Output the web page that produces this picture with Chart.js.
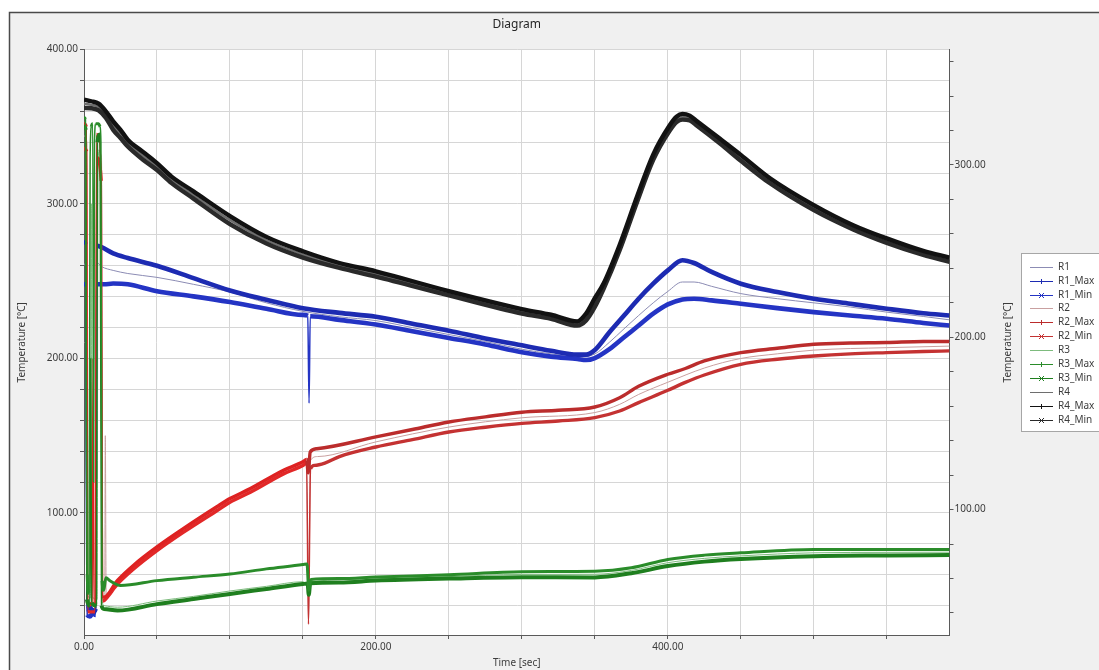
<!DOCTYPE html>
<html>
<head>
<meta charset="utf-8">
<title>Diagram</title>
<script src="https://cdn.jsdelivr.net/npm/chart.js@4.4.1/dist/chart.umd.min.js"></script>
<style>
  html, body { margin: 0; padding: 0; background: #ffffff; }
  canvas { display: block; }
</style>
</head>
<body>
<canvas id="chart" width="1099" height="670"></canvas>
<script>
// Logged temperatures, each point is [time in s, temperature in °C]

const R1 = [[0,261],[1.2,261],[2.1,36],[4,37],[6,36],[8,35],[8.9,262],[12,259.5],[20,257],[30,255],[50,252.5],[75,248],[100,243],[125,236],[150,230.5],[175,227],[200,224.5],[225,220],[250,215.5],[275,211],[300,206],[320,203],[338,200.7],[350,202.9],[360,210.5],[370,219.2],[380,227.8],[390,236],[400,243.4],[410,249.5],[418,249.5],[430,246.7],[450,242],[475,238.7],[500,236],[525,233.3],[550,230],[575,227.2],[593,225]];

const R1_MAX = [[0,275],[1.1,274],[1.9,38],[4,39],[6,36],[8,38],[8.7,273],[12,272],[20,268],[30,265],[50,260],[75,252],[100,244],[125,238],[150,232.5],[175,229.5],[200,227],[225,222.5],[250,218],[275,213],[300,208.5],[320,205],[338,202.5],[344,202.5],[350,205.5],[360,217],[370,227.8],[380,238.7],[390,248.4],[400,257],[410,263.6],[418,261.8],[430,256],[450,248.4],[475,243],[500,238.7],[525,235.4],[550,232.2],[575,229.3],[593,227.8]];

const R1_MIN = [[0,248],[1.3,248],[2.2,34],[4,33],[6,35],[8,34],[9,248],[13.7,248],[20,248.5],[30,248],[50,243.5],[75,240.2],[100,236.5],[125,232.2],[150,228.2],[153.3,227.6],[154.2,171],[155,227.3],[175,225],[200,222],[225,217.6],[250,213.3],[275,209],[300,204],[320,201.2],[338,199.7],[344,199],[350,200.3],[360,206],[370,213.7],[380,221.3],[390,229],[400,235],[410,238.2],[418,238.7],[430,237.6],[450,235.4],[475,232.6],[500,230],[525,227.8],[550,225.7],[575,223],[593,221.3]];

const R2 = [[0,344],[2,340],[2.5,38],[8.4,38],[9,335],[12,330],[13,45],[14.2,46],[14.6,150],[15.2,45],[22.8,55],[34,65],[50,76.8],[68,88.6],[91,102.7],[100,108.1],[114,114.6],[136.7,126.5],[150,131.9],[152.5,133.5],[153.8,31],[155.2,134],[160,136.5],[200,146],[250,155.6],[300,161.6],[350,165],[367,170.3],[380,176.7],[400,184.6],[425,193.8],[450,200],[475,203],[500,205.4],[550,207],[593,208]];

const R2_MAX = [[0,352],[1.5,350],[2.4,40],[5.5,42],[6.2,200],[6.8,40],[8,42],[8.6,345],[10.5,342],[11.5,320],[12.5,46],[13.7,45.5],[22.8,56.2],[34,66.2],[50,78],[68,89.8],[91,104],[100,109.3],[114,115.8],[136.7,127.7],[150,133.1],[152.5,134.7],[153.6,126],[155,139.5],[159.5,141.6],[200,149.2],[225,154],[250,158.9],[275,162.2],[300,165.2],[325,166.5],[350,168.6],[367,174.6],[380,182],[400,189.8],[412,193.5],[425,198.4],[450,203.8],[475,206.6],[500,209.2],[525,210],[550,210.3],[575,211],[593,211]];

const R2_MIN = [[0,336],[1.8,334],[2.6,36],[7.5,36],[8.8,330],[11.8,315],[12.8,43],[13.7,43.3],[22.8,53.8],[34,63.7],[50,75.6],[68,87.4],[91,101.4],[100,106.9],[114,113.4],[136.7,125.3],[150,130.7],[152.5,132.3],[153.8,28],[155.2,128.6],[158,130.8],[165,132.3],[175,136.5],[200,142.7],[225,147.5],[250,152.4],[275,155.5],[300,158],[325,159.5],[350,161.7],[367,166],[380,171.4],[400,179.4],[412,184.5],[425,189.3],[450,196.2],[475,199.5],[500,201.6],[525,203],[550,203.8],[575,204.5],[593,204.9]];

const R3 = [[0,353],[1.4,350],[2.1,48],[4.4,45],[5,300],[5.6,46],[9,44],[9.6,330],[11.2,335],[12.2,46],[13.7,40],[23,39],[50,43],[75,46],[100,49.5],[125,52.5],[150,55.5],[154,52],[155.5,55.5],[200,57.2],[250,58.8],[300,60.2],[350,60.3],[375,62.8],[400,67.8],[425,70.6],[450,72.2],[500,74.2],[550,74.5],[593,74.6]];

const R3_MAX = [[0,356],[1,355],[1.6,150],[2.2,60],[3.4,48],[4.2,330],[5,350],[6,352],[6.6,120],[7.2,340],[8,352],[10,352],[11,350],[11.6,340],[12.4,56],[13.5,50],[15,58],[18,56],[25,53],[50,56.2],[75,58.4],[100,60.5],[125,63.8],[150,66.6],[152.8,67],[154,50],[155.5,57],[175,57.5],[200,58.5],[250,60],[300,62],[350,62.3],[375,64.5],[400,69.9],[425,72.7],[450,74.2],[500,76.4],[550,76.4],[593,76.4]];

const R3_MIN = [[0,350],[1.2,348],[2,44],[4,40],[4.6,200],[5.2,42],[8.5,40],[9.2,340],[11,345],[12,40],[13.7,37.8],[23,36.8],[50,41],[75,44.3],[100,47.6],[125,50.8],[150,54],[153.2,54.3],[154,47],[155,54.5],[175,55],[200,56.2],[250,57.5],[300,58.4],[350,58.3],[375,61],[400,65.6],[425,68.5],[450,70.2],[500,72],[550,72.5],[593,72.8]];

const R4 = [[0,365],[5,364.2],[10,362.8],[15,357.8],[20,350.8],[25,345.3],[30,339.4],[40,331.5],[50,324.2],[60,315.6],[75,305.8],[100,289.6],[125,276.5],[150,267.3],[175,260.2],[200,254.7],[250,242.2],[300,230.5],[320,227],[338,222.6],[344,226.8],[350,236.2],[356,246.8],[367,271.8],[379,303.2],[390,330.2],[401,348.8],[406,354.8],[410,356.4],[415,355.6],[420,352.1],[436,340.5],[450,329.9],[470,315],[500,297.6],[527,284.9],[550,276.2],[575,268.3],[593,263.9]];

const R4_MAX = [[0,367.6],[5,366.5],[10,365],[15,360],[20,353.5],[25,348],[30,341.6],[40,334],[50,326.4],[60,317.7],[75,308.2],[100,292.2],[125,278.7],[150,269.4],[175,261.8],[200,256.4],[250,243.6],[300,232],[320,228.3],[338,224],[344,229],[350,239],[356,248.5],[367,273.5],[379,305],[390,332],[401,350.5],[406,356.5],[410,358.3],[415,357.2],[420,353.5],[436,342],[450,331.8],[470,316.7],[500,299.3],[527,286.3],[550,277.7],[575,269.6],[593,265.3]];

const R4_MIN = [[0,362.2],[5,362],[10,360.6],[15,355.7],[20,348],[25,342.7],[30,337.2],[40,329],[50,322],[60,313.5],[75,303.5],[100,287],[125,274.4],[150,265.3],[175,258.6],[200,253],[250,240.8],[300,229],[320,225.7],[338,221.3],[344,224.6],[350,233.3],[356,245],[367,270],[379,301.5],[390,328.5],[401,347],[406,353],[410,354.6],[415,354.1],[420,350.7],[436,339],[450,328],[470,313.4],[500,296],[527,283.5],[550,274.8],[575,267],[593,262.5]];

// Axis ticks
const X_TICKS = [0, 50, 100, 150, 200, 250, 300, 350, 400, 450, 500, 550];
const Y_TICKS = [40, 60, 80, 100, 120, 140, 160, 180, 200, 220, 240, 260, 280, 300, 320, 340, 360, 380, 400];
const Y2_TICKS = [40, 60, 80, 100, 120, 140, 160, 180, 200, 220, 240, 260, 280, 300, 320, 340, 360];

// Look of each channel: mean as a thin line under the heavier max (+) and min (x) traces.
// layer: lower numbers are painted later, i.e. on top.
// warmup: [until time s, colour] for the first heating phase of a trace.
const STYLE = {
  'R1':     { color: '#8c8cb4', width: 1,   mark: null,       layer: 6 },
  'R1_Max': { color: '#1d2bb2', width: 4.6, mark: 'cross',    layer: 2 },
  'R1_Min': { color: '#2434c4', width: 4.6, mark: 'crossRot', layer: 2 },
  'R2':     { color: '#c9a0a0', width: 1,   mark: null,       layer: 5 },
  'R2_Max': { color: '#bb2c2c', width: 3.4, mark: 'cross',    layer: 1, warmup: [153, '#de2222'] },
  'R2_Min': { color: '#c43232', width: 3.4, mark: 'crossRot', layer: 1, warmup: [153, '#e22828'] },
  'R3':     { color: '#7dbb7d', width: 1,   mark: null,       layer: 4 },
  'R3_Max': { color: '#2a8c2a', width: 3,   mark: 'cross',    layer: 0 },
  'R3_Min': { color: '#1f7f1f', width: 4,   mark: 'crossRot', layer: 0 },
  'R4':     { color: '#6e6e6e', width: 2.4, mark: null,       layer: 7 },
  'R4_Max': { color: '#121212', width: 4.4, mark: 'cross',    layer: 3 },
  'R4_Min': { color: '#2a2a2a', width: 4.4, mark: 'crossRot', layer: 3 }
};
// Sudden jumps (faster than this, °C per s) are drawn as hairlines
const JUMP_RATE = 15;
const JUMP_WIDTH = 1.5;

const CHANNELS = [
  ['R1', R1], ['R1_Max', R1_MAX], ['R1_Min', R1_MIN],
  ['R2', R2], ['R2_Max', R2_MAX], ['R2_Min', R2_MIN],
  ['R3', R3], ['R3_Max', R3_MAX], ['R3_Min', R3_MIN],
  ['R4', R4], ['R4_Max', R4_MAX], ['R4_Min', R4_MIN]
];

const FONT = "'Noto Sans', 'DejaVu Sans', sans-serif";
const TEXT = '#3c3c3c';
const AXIS = '#5a5a5a';
const GRID = '#d6d6d6';

Chart.defaults.font.family = FONT;
Chart.defaults.font.size = 10;
Chart.defaults.color = TEXT;

const datasets = CHANNELS.map(([name, pts]) => {
  const st = STYLE[name];
  return {
    label: name,
    data: pts.map(([t, v]) => ({ x: t, y: v })),
    borderColor: st.color,
    backgroundColor: st.color,
    borderWidth: st.width,
    order: st.layer,
    pointRadius: 0,
    cubicInterpolationMode: 'monotone',
    fill: false,
    segment: {
      borderWidth: (c) => {
        const dt = Math.max(c.p1.parsed.x - c.p0.parsed.x, 1e-6);
        const rate = Math.abs(c.p1.parsed.y - c.p0.parsed.y) / dt;
        return rate > JUMP_RATE ? Math.min(JUMP_WIDTH, st.width) : st.width;
      },
      borderColor: (c) => (st.warmup && c.p1.parsed.x <= st.warmup[0] ? st.warmup[1] : st.color)
    }
  };
});

// Window frame, plot background, title, right axis caption and legend box
const decor = {
  id: 'decor',
  beforeDraw(chart) {
    const { ctx, width, height, chartArea: a } = chart;
    ctx.save();
    ctx.fillStyle = '#ffffff';
    ctx.fillRect(0, 0, width, height);
    ctx.fillStyle = '#f0f0f0';
    ctx.fillRect(10, 13, width - 10, height - 13);
    ctx.strokeStyle = '#4a4a4a';
    ctx.lineWidth = 1.5;
    ctx.beginPath();
    ctx.moveTo(9.5, height);
    ctx.lineTo(9.5, 12.5);
    ctx.lineTo(width, 12.5);
    ctx.stroke();
    ctx.fillStyle = '#ffffff';
    ctx.fillRect(a.left, a.top, a.right - a.left, a.bottom - a.top);
    ctx.restore();
  },
  afterDraw(chart) {
    const { ctx, chartArea: a } = chart;
    ctx.save();
    // title
    ctx.fillStyle = '#262626';
    ctx.font = '12px ' + FONT;
    ctx.textAlign = 'center';
    ctx.textBaseline = 'middle';
    ctx.fillText('Diagram', (a.left + a.right) / 2, 25);

    // right axis caption, reading upwards
    ctx.font = '10px ' + FONT;
    ctx.fillStyle = TEXT;
    ctx.translate(1008, (a.top + a.bottom) / 2);
    ctx.rotate(-Math.PI / 2);
    ctx.fillText('Temperature [°C]', 0, 0);
    ctx.setTransform(1, 0, 0, 1, 0, 0);

    // legend
    const bx = 1021.5, by = 253.5, rowH = 13.9, y0 = 266.7;
    ctx.fillStyle = '#ffffff';
    ctx.fillRect(bx, by, 1099 - bx + 2, 178);
    ctx.strokeStyle = '#a6a6a6';
    ctx.lineWidth = 1;
    ctx.strokeRect(bx, by, 1099 - bx + 10, 178);
    ctx.textAlign = 'left';
    ctx.textBaseline = 'middle';
    chart.data.datasets.forEach((ds, i) => {
      const st = STYLE[ds.label];
      const y = Math.round(y0 + i * rowH) + 0.5;
      ctx.strokeStyle = st.color;
      ctx.lineWidth = 1;
      ctx.beginPath();
      ctx.moveTo(1030, y);
      ctx.lineTo(1053, y);
      ctx.stroke();
      const cx = 1041.5, r = 2.5;
      if (st.mark === 'cross') {
        ctx.beginPath();
        ctx.moveTo(cx, y - r); ctx.lineTo(cx, y + r);
        ctx.stroke();
      } else if (st.mark === 'crossRot') {
        ctx.beginPath();
        ctx.moveTo(cx - r, y - r); ctx.lineTo(cx + r, y + r);
        ctx.moveTo(cx + r, y - r); ctx.lineTo(cx - r, y + r);
        ctx.stroke();
      }
      ctx.fillStyle = TEXT;
      ctx.fillText(ds.label, 1058, y);
    });
    ctx.restore();
  }
};

const fixed = (list) => (scale) => { scale.ticks = list.map(v => ({ value: v })); };
const every = (step) => (v) => (v % step === 0 ? v.toFixed(2) : '');

new Chart(document.getElementById('chart'), {
  type: 'line',
  data: { datasets },
  plugins: [decor],
  options: {
    responsive: false,
    animation: false,
    events: [],
    layout: { padding: { top: 49.5, left: 0, right: 0, bottom: 0 } },
    plugins: {
      legend: { display: false },
      title: { display: false },
      tooltip: { enabled: false }
    },
    scales: {
      x: {
        type: 'linear',
        position: 'bottom',
        min: 0,
        max: 593,
        afterBuildTicks: fixed(X_TICKS),
        afterFit(scale) { scale.height = 35; },
        ticks: { autoSkip: false, maxRotation: 0, padding: 2, color: TEXT, callback: every(200) },
        grid: { color: GRID, tickColor: AXIS, tickLength: 4, drawTicks: true },
        border: { display: true, color: AXIS, width: 1 },
        title: { display: true, text: 'Time [sec]', color: TEXT, font: { size: 10 }, padding: { top: 0, bottom: 1 } }
      },
      y: {
        type: 'linear',
        position: 'left',
        min: 21,
        max: 400,
        afterBuildTicks: fixed(Y_TICKS),
        afterFit(scale) { scale.width = 84; },
        ticks: { autoSkip: false, padding: 2, color: TEXT, callback: every(100) },
        grid: { color: GRID, tickColor: AXIS, tickLength: 4, drawTicks: true },
        border: { display: true, color: AXIS, width: 1 },
        title: { display: true, text: 'Temperature [°C]', color: TEXT, font: { size: 10 }, padding: { top: 16, bottom: 0 } }
      },
      y2: {
        type: 'linear',
        position: 'right',
        display: true,
        min: 27.2,
        max: 367,
        afterBuildTicks: fixed(Y2_TICKS),
        afterFit(scale) { scale.width = 149.5; },
        ticks: { autoSkip: false, padding: 1, color: TEXT, callback: every(100) },
        grid: { drawOnChartArea: false, tickColor: AXIS, tickLength: 4, drawTicks: true },
        border: { display: true, color: AXIS, width: 1 }
      }
    }
  }
});
</script>
</body>
</html>
